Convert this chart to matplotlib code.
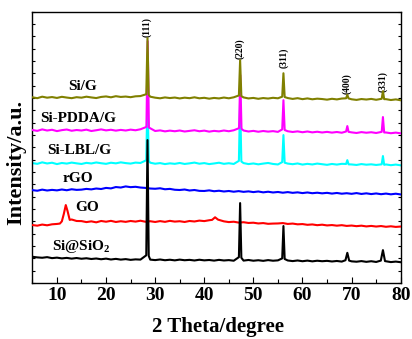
import numpy as np
import matplotlib
matplotlib.use("Agg")
import matplotlib.pyplot as plt
from matplotlib.ticker import MultipleLocator

# XRD patterns (intensity in arbitrary counts, curves already offset)
two_theta = list(range(5, 81))

si_g_base = [1505, 1498, 1510, 1502, 1507, 1500, 1509, 1503, 1498, 1506,
             1502, 1510, 1504, 1499, 1508, 1512, 1505, 1514, 1508, 1511,
             1506, 1513, 1515, 1520, 1510, 1502, 1497, 1504, 1499, 1503,
             1496, 1502, 1498, 1505, 1497, 1501, 1494, 1500, 1496, 1503,
             1497, 1505, 1512, 1504, 1496, 1500, 1493, 1499, 1495, 1501,
             1497, 1510, 1499, 1492, 1498, 1490, 1496, 1489, 1494, 1491,
             1486, 1493, 1488, 1495, 1500, 1489, 1484, 1491, 1487, 1492,
             1485, 1496, 1490, 1483, 1488, 1481]
si_g_peak_x = [28.19, 28.44, 28.69, 47.05, 47.30, 47.55, 55.87, 56.12, 56.37,
               68.88, 69.13, 69.38, 76.13, 76.38, 76.63]
si_g_peak_y = [1530, 1985, 1525, 1520, 1806, 1515, 1510, 1700, 1507,
               1497, 1525, 1496, 1493, 1555, 1490]

pdda_base = [1240, 1233, 1245, 1236, 1242, 1231, 1239, 1244, 1234, 1240,
             1236, 1243, 1232, 1238, 1245, 1237, 1242, 1235, 1241, 1236,
             1243, 1238, 1246, 1250, 1240, 1232, 1237, 1229, 1235, 1230,
             1236, 1228, 1233, 1238, 1230, 1235, 1227, 1233, 1229, 1236,
             1230, 1238, 1245, 1236, 1228, 1233, 1226, 1232, 1227, 1231,
             1225, 1236, 1230, 1224, 1229, 1222, 1228, 1221, 1226, 1220,
             1225, 1219, 1224, 1218, 1228, 1221, 1216, 1223, 1218, 1222,
             1216, 1226, 1220, 1214, 1219, 1213]
pdda_peak_x = [28.22, 28.48, 28.73, 47.08, 47.33, 47.58, 55.87, 56.12, 56.37,
               68.88, 69.13, 69.38, 76.13, 76.38, 76.63]
pdda_peak_y = [1265, 1960, 1260, 1255, 1685, 1250, 1245, 1482, 1240,
               1228, 1272, 1225, 1225, 1345, 1220]

lbl_base = [972, 966, 978, 969, 975, 964, 973, 968, 976, 970,
            965, 974, 969, 977, 971, 966, 975, 970, 978, 972,
            968, 976, 973, 982, 975, 967, 972, 964, 970, 966,
            973, 965, 970, 976, 967, 972, 964, 969, 975, 966,
            971, 965, 980, 972, 964, 969, 962, 968, 973, 965,
            961, 974, 968, 963, 969, 960, 966, 961, 968, 963,
            958, 965, 960, 966, 970, 961, 957, 964, 959, 962,
            957, 966, 961, 955, 960, 954]
lbl_peak_x = [28.19, 28.44, 28.69, 47.05, 47.30, 47.55, 55.87, 56.12, 56.37,
              68.88, 69.13, 69.38, 76.13, 76.38, 76.63]
lbl_peak_y = [995, 1523, 990, 990, 1482, 985, 980, 1199, 975,
              965, 996, 962, 962, 1029, 958]

rgo_base = [753, 748, 757, 750, 755, 751, 758, 752, 760, 755,
            757, 763, 759, 766, 762, 771, 767, 778, 774, 783,
            777, 780, 774, 771, 766, 764, 768, 760, 763, 756,
            754, 758, 750, 754, 747, 746, 751, 744, 748, 742,
            746, 740, 745, 739, 743, 737, 742, 735, 740, 734,
            738, 732, 737, 731, 735, 729, 734, 728, 732, 727,
            731, 725, 730, 724, 728, 723, 729, 722, 727, 721,
            726, 720, 725, 719, 724, 718]
rgo_peak_x = []
rgo_peak_y = []

go_base = [470, 465, 474, 468, 476, 479, 505, 520, 515, 503,
           502, 494, 500, 492, 503, 497, 504, 495, 501, 496,
           503, 498, 505, 497, 501, 495, 502, 496, 504, 498,
           501, 495, 503, 499, 506, 502, 509, 525, 512, 500,
           494, 497, 490, 493, 487, 489, 483, 486, 480, 482,
           483, 486, 479, 482, 476, 478, 472, 475, 469, 473,
           467, 470, 465, 469, 463, 466, 461, 465, 459, 463,
           458, 462, 456, 460, 455, 458]
go_peak_x = [10.6, 11.0, 11.4, 11.8, 12.15, 12.6, 41.6, 42.2, 42.8]
go_peak_y = [482, 500, 560, 632, 585, 512, 512, 533, 514]

sio2_base = [213, 208, 205, 210, 202, 206, 200, 204, 198, 203,
             197, 201, 195, 199, 193, 198, 191, 196, 190, 194,
             188, 192, 190, 196, 190, 186, 191, 185, 189, 184,
             190, 185, 188, 183, 189, 184, 187, 182, 188, 183,
             186, 181, 192, 182, 187, 181, 185, 180, 186, 181,
             184, 190, 183, 178, 183, 177, 182, 176, 181, 177,
             180, 175, 179, 174, 182, 176, 173, 178, 172, 177,
             171, 180, 175, 170, 174, 169]
sio2_peak_x = [28.19, 28.44, 28.69, 47.05, 47.30, 47.55, 55.87, 56.12, 56.37,
               68.75, 69.13, 69.5, 75.95, 76.38, 76.8]
sio2_peak_y = [225, 1158, 220, 210, 648, 205, 200, 462, 195,
               185, 245, 182, 182, 267, 178]

sample_names = ["Si/G", "Si-PDDA/G", "Si-LBL/G", "rGO", "GO", "Si@SiO$_2$"]
sample_colors = ["#808000", "#ff00ff", "#00ffff", "#0000ff", "#ff0000", "#000000"]
sample_zorder = [4, 3, 2, 5, 6, 7]
label_x = [15.3, 14.4, 14.5, 14.3, 16.1, 15.0]
label_y = [1596, 1337, 1077, 850, 616, 300]

hkl_labels = ["(111)", "(220)", "(311)", "(400)", "(331)"]
hkl_x = [28.3, 47.3, 56.1, 69.1, 76.3]
hkl_y = [2078, 1895, 1823, 1612, 1636]


def merge(base, peak_x, peak_y):
    # put the peak points in among the baseline reads, dropping baseline reads under a peak
    x = np.array(two_theta, dtype=float)
    y = np.array(base, dtype=float)
    if len(peak_x) == 0:
        return x, y
    px = np.array(peak_x, dtype=float)
    keep = np.array([np.min(np.abs(px - v)) > 0.3 for v in x])
    x = np.concatenate([x[keep], px])
    y = np.concatenate([y[keep], np.array(peak_y, dtype=float)])
    order = np.argsort(x)
    return x[order], y[order]


plt.rcParams['font.family'] = ['Liberation Serif', 'DejaVu Serif']
plt.rcParams['font.weight'] = 'bold'
plt.rcParams['mathtext.fontset'] = 'custom'
plt.rcParams['mathtext.rm'] = 'Liberation Serif:bold'
plt.rcParams['mathtext.it'] = 'Liberation Serif:bold'
plt.rcParams['mathtext.bf'] = 'Liberation Serif:bold'

fig = plt.figure(figsize=(4.12, 3.39), dpi=100)
ax = fig.add_axes([0.0786, 0.165, 0.894, 0.801])

curves = [
    (si_g_base, si_g_peak_x, si_g_peak_y),
    (pdda_base, pdda_peak_x, pdda_peak_y),
    (lbl_base, lbl_peak_x, lbl_peak_y),
    (rgo_base, rgo_peak_x, rgo_peak_y),
    (go_base, go_peak_x, go_peak_y),
    (sio2_base, sio2_peak_x, sio2_peak_y),
]
for (base, pk_x, pk_y), color, z in zip(curves, sample_colors, sample_zorder):
    x, y = merge(base, pk_x, pk_y)
    ax.plot(x, y, color=color, linewidth=1.5, zorder=z)

for name, lx, ly in zip(sample_names, label_x, label_y):
    ax.text(lx, ly, name, ha='center', va='center', fontsize=11, fontweight='bold')

for lab, hx, hy in zip(hkl_labels, hkl_x, hkl_y):
    ax.text(hx, hy, lab, rotation=90, ha='center', va='center', fontsize=7,
            fontweight='bold')

ax.set_xlim(5, 80)
ax.set_ylim(0, 2200)
ax.xaxis.set_major_locator(MultipleLocator(10))
ax.xaxis.set_minor_locator(MultipleLocator(5))
ax.yaxis.set_major_locator(MultipleLocator(100))
ax.tick_params(axis='x', which='major', direction='in', length=4, width=0.8,
               labelsize=14, pad=2.5)
ax.tick_params(axis='x', which='minor', direction='in', length=3, width=0.8)
ax.tick_params(axis='y', which='major', direction='in', length=2.5, width=0.8,
               left=True, right=True, labelleft=False)
for s in ax.spines.values():
    s.set_linewidth(1.0)

fig.text(218 / 412, 1 - 327 / 339, "2 Theta/degree", ha='center', va='center',
         fontsize=15, fontweight='bold')
fig.text(16 / 412, 1 - 162 / 339, "Intensity/a.u.", rotation=90, ha='center',
         va='center', fontsize=16, fontweight='bold')

fig.savefig("out.png", dpi=100)
